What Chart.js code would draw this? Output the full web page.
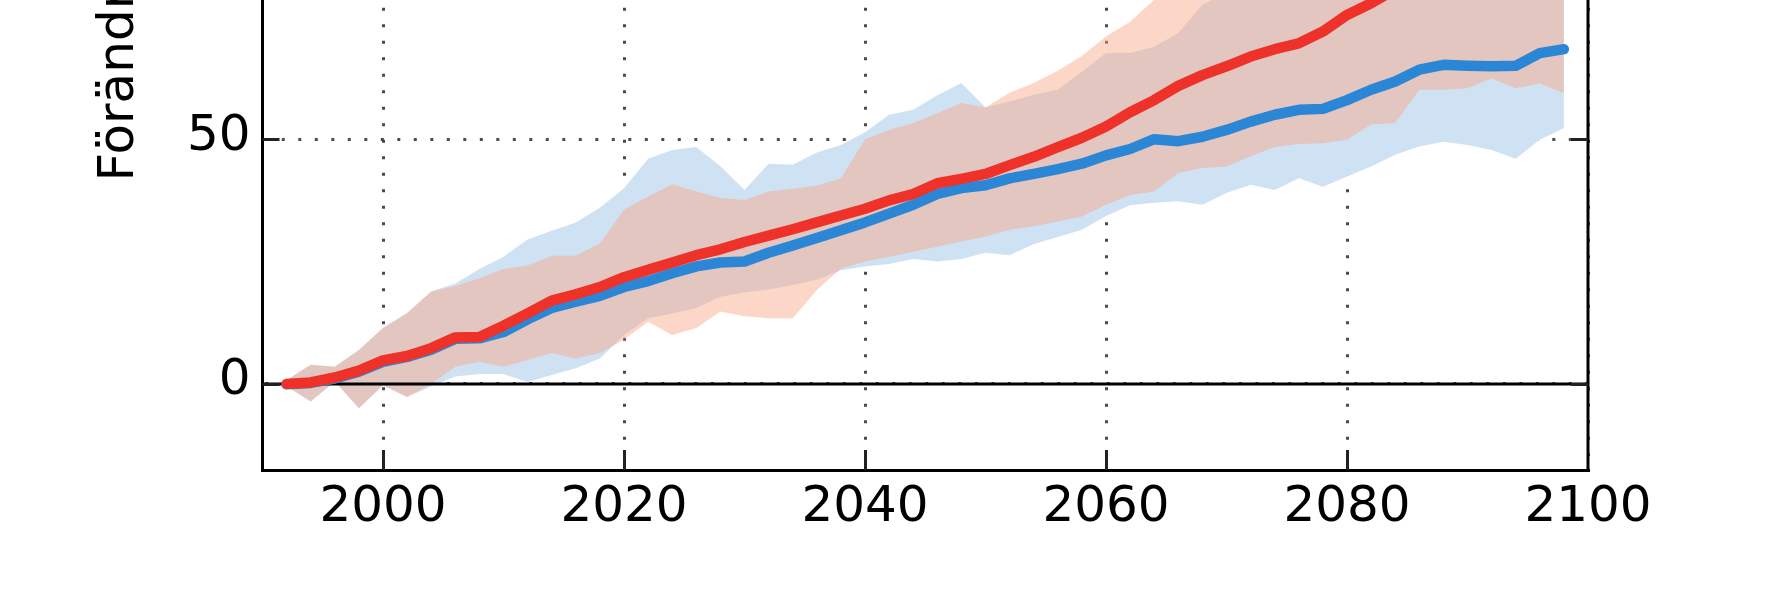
<!DOCTYPE html>
<html>
<head>
<meta charset="utf-8">
<script src="https://cdn.jsdelivr.net/npm/chart.js@4/dist/chart.umd.min.js"></script>
<style>
html,body{margin:0;padding:0;background:#fff;overflow:hidden}
canvas{display:block}
</style>
</head>
<body>
<canvas id="c" width="1767" height="590"></canvas>
<script>
// ---- data ----
const years = [1992,1994,1996,1998,2000,2002,2004,2006,2008,
  2010,2012,2014,2016,2018,2020,2022,2024,2026,2028,
  2030,2032,2034,2036,2038,2040,2042,2044,2046,2048,
  2050,2052,2054,2056,2058,2060,2062,2064,2066,2068,
  2070,2072,2074,2076,2078,2080,2082,2084,2086,2088,
  2090,2092,2094,2096,2098];

const rcp85Mean = [0.0,0.3,1.3,2.7,4.8,5.7,7.3,9.5,9.6,
  11.9,14.4,17.0,18.3,19.8,21.8,23.3,24.8,26.3,27.5,
  29.0,30.3,31.6,33.0,34.4,35.8,37.5,38.8,41.0,41.9,
  42.9,44.7,46.4,48.4,50.3,52.6,55.5,58.0,60.9,63.1,
  64.9,66.9,68.4,69.6,72.0,75.4,77.8,80.6,83.5,86.0,
  88.8,91.5,94.0,97.0,99.5];

const rcp45Mean = [-0.1,0.2,1.1,2.5,4.5,5.5,7.0,9.2,9.3,
  10.6,13.2,15.5,16.8,18.0,19.8,21.0,22.6,24.0,24.8,
  25.0,26.8,28.3,29.8,31.4,33.0,34.8,36.6,38.8,40.0,
  40.6,42.0,42.9,43.9,45.0,46.7,48.0,50.0,49.6,50.5,
  51.9,53.6,55.0,56.0,56.2,58.0,60.1,61.8,64.2,65.2,
  65.0,64.9,65.0,67.6,68.4];

const rcp85Upper = [0.8,3.9,3.5,6.9,11.4,14.5,18.9,20.0,21.6,
  23.5,24.2,26.2,26.2,28.7,35.6,38.3,40.8,39.3,38.0,
  37.6,39.3,39.9,40.5,42.0,50.0,51.9,53.3,55.3,57.4,
  56.5,59.5,61.5,64.0,67.0,71.0,74.0,78.5,82,86,
  90,94,98,102,106,110,114,118,122,126,
  130,134,138,142,146];

const rcp85Lower = [-0.5,-3.6,0.5,-5.0,-0.3,-2.7,0.0,3.5,4.5,
  3.5,4.9,6.3,5.2,6.3,9.0,12.7,10.0,11.4,14.8,
  13.8,13.4,13.4,19.2,23.6,25.0,26.0,27.0,28.0,29.1,
  30.1,31.5,32.2,33.2,34.2,36.6,38.6,39.3,43.1,44.1,
  44.4,46.5,48.4,49.0,49.2,49.9,53.0,53.3,60.1,60.1,
  60.4,62.4,60.4,61.4,59.4];

const rcp45Upper = [0.8,3.9,3.5,6.9,11.4,14.5,18.9,20.5,23.5,
  26.0,29.5,31.3,33.0,36.0,40.0,46.0,47.8,48.4,44.5,
  39.6,45.0,44.8,47.3,48.8,51.4,55.0,56.0,59.0,61.5,
  56.5,57.7,59.1,60.1,63.8,67.6,67.6,68.9,71.7,77.5,
  80,82,84,86,88,90,92,94,96,98,
  100,102,104,106,108];

const rcp45Lower = [-0.5,-3.6,0.5,-5.0,-0.3,-2.7,-0.5,1.5,2.0,
  2.0,0.4,1.8,3.2,5.2,10.0,13.4,14.4,15.5,17.8,
  18.7,19.3,20.2,21.3,23.2,24.0,24.5,25.5,25.0,25.5,
  26.8,26.3,28.6,30.0,31.5,34.3,36.5,37.0,37.3,36.6,
  39.0,40.7,39.6,42.0,40.3,42.4,44.4,46.8,48.5,49.5,
  48.8,47.8,46.0,49.9,52.3];

const zeroLineX = [1990, 2100];
const zeroLineY = [0, 0];

const yearTicks = [2000, 2020, 2040, 2060, 2080, 2100];
const valueTicks = [0, 50];
const yTitle = 'Förändring (%)';

// ---- build ----
const pts = (xs, ys) => xs.map((x, i) => ({x: x, y: ys[i]}));
const FONT = 'DejaVu Sans';
const RED = '#ee3129';
const BLUE = '#2b87d6';
const NONE = 'rgba(0,0,0,0)';

const frame = {
  id: 'frame',
  afterDraw(chart) {
    const {ctx, chartArea: a, scales: {x, y}} = chart;
    ctx.save();
    // right spine
    ctx.strokeStyle = '#000';
    ctx.lineWidth = 3;
    ctx.beginPath();
    ctx.moveTo(a.right, a.top);
    ctx.lineTo(a.right, a.bottom + 1.5);
    ctx.stroke();
    // inward tick marks
    ctx.strokeStyle = '#222';
    ctx.lineWidth = 3;
    yearTicks.forEach(v => {
      if (v >= x.max) return;
      const px = Math.round(x.getPixelForValue(v)) + 0.5;
      ctx.beginPath();
      ctx.moveTo(px, a.bottom);
      ctx.lineTo(px, a.bottom - 20);
      ctx.stroke();
    });
    valueTicks.forEach(v => {
      const py = Math.round(y.getPixelForValue(v)) + 0.5;
      ctx.beginPath();
      ctx.moveTo(a.left, py); ctx.lineTo(a.left + 17, py);
      ctx.moveTo(a.right, py); ctx.lineTo(a.right - 17, py);
      ctx.stroke();
    });
    // y axis title (rotated)
    ctx.fillStyle = '#000';
    ctx.font = '50px "' + FONT + '"';
    ctx.translate(133, 181.5);
    ctx.rotate(-Math.PI / 2);
    ctx.textAlign = 'left';
    ctx.textBaseline = 'alphabetic';
    ctx.fillText(yTitle, 0, 0);
    ctx.restore();
  }
};

const noPad = s => { s.paddingTop = 0; s.paddingBottom = 0; s.paddingLeft = 0; s.paddingRight = 0; };

new Chart(document.getElementById('c'), {
  type: 'line',
  data: {
    datasets: [
      {label: 'RCP8.5', data: pts(years, rcp85Mean), borderColor: RED, borderWidth: 10.5, fill: false, order: 0},
      {label: 'RCP4.5', data: pts(years, rcp45Mean), borderColor: BLUE, borderWidth: 10.5, fill: false, order: 1},
      {label: 'noll', data: pts(zeroLineX, zeroLineY), borderColor: '#000', borderWidth: 3, borderCapStyle: 'butt', fill: false, order: 2},
      {label: 'RCP8.5 max', data: pts(years, rcp85Upper), borderColor: NONE, borderWidth: 1, backgroundColor: 'rgba(248,164,128,0.45)', fill: '+1', order: 3},
      {label: 'RCP8.5 min', data: pts(years, rcp85Lower), borderColor: NONE, borderWidth: 1, fill: false, order: 4},
      {label: 'RCP4.5 max', data: pts(years, rcp45Upper), borderColor: NONE, borderWidth: 1, backgroundColor: 'rgb(207,226,243)', fill: '+1', order: 5},
      {label: 'RCP4.5 min', data: pts(years, rcp45Lower), borderColor: NONE, borderWidth: 1, fill: false, order: 6}
    ]
  },
  options: {
    responsive: false,
    animation: false,
    devicePixelRatio: 1,
    layout: {padding: {left: 0, right: 179, top: 0, bottom: 0}},
    elements: {
      point: {radius: 0, hoverRadius: 0},
      line: {tension: 0, borderCapStyle: 'round', borderJoinStyle: 'round'}
    },
    plugins: {legend: {display: false}, tooltip: {enabled: false}},
    scales: {
      x: {
        type: 'linear', min: 1990, max: 2100, z: 1,
        afterBuildTicks: s => { s.ticks = yearTicks.map(v => ({value: v})); },
        afterFit: s => { s.height = 120; noPad(s); },
        ticks: {padding: 8, color: '#000', font: {family: FONT, size: 50}, maxRotation: 0, autoSkip: false, callback: v => String(v)},
        grid: {color: 'rgba(55,55,55,0.9)', lineWidth: 3, drawTicks: false},
        border: {color: '#000', width: 3, dash: [3, 13.5], dashOffset: 8.7}
      },
      y: {
        type: 'linear', min: -17.6, max: 78.45, z: 1,
        afterBuildTicks: s => { s.ticks = valueTicks.map(v => ({value: v})); },
        afterFit: s => { s.width = 262.5; noPad(s); },
        ticks: {padding: 12, labelOffset: -2.5, color: '#000', font: {family: FONT, size: 50}, callback: v => String(v)},
        grid: {color: 'rgba(55,55,55,0.9)', lineWidth: 3, drawTicks: false},
        border: {color: '#000', width: 3, dash: [3, 13.5], dashOffset: 15.2}
      }
    }
  },
  plugins: [frame]
});
</script>
</body>
</html>
